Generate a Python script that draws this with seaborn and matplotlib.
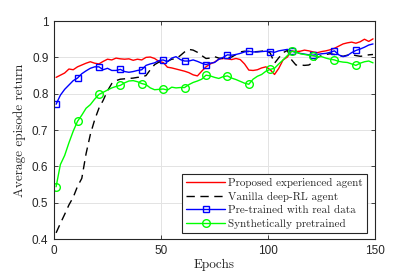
import pandas as pd
import seaborn as sns
import matplotlib.pyplot as plt

epochs = list(range(1, 150, 2))

proposed = [0.845, 0.851, 0.857, 0.868, 0.866, 0.874, 0.879, 0.884, 0.888, 0.884,
            0.882, 0.889, 0.895, 0.893, 0.898, 0.896, 0.895, 0.896, 0.892, 0.895,
            0.893, 0.900, 0.901, 0.897, 0.889, 0.886, 0.873, 0.871, 0.868, 0.865,
            0.862, 0.858, 0.852, 0.849, 0.862, 0.874, 0.882, 0.887, 0.895, 0.897,
            0.896, 0.894, 0.897, 0.894, 0.882, 0.865, 0.864, 0.866, 0.871, 0.874,
            0.866, 0.853, 0.870, 0.893, 0.901, 0.918, 0.916, 0.917, 0.920, 0.918,
            0.915, 0.913, 0.916, 0.918, 0.921, 0.925, 0.931, 0.937, 0.940, 0.942,
            0.939, 0.943, 0.950, 0.944, 0.951]

vanilla = [0.417, 0.443, 0.468, 0.494, 0.515, 0.545, 0.567, 0.635, 0.688, 0.728,
           0.760, 0.782, 0.808, 0.828, 0.836, 0.840, 0.841, 0.842, 0.843, 0.845,
           0.846, 0.850, 0.866, 0.880, 0.887, 0.887, 0.889, 0.895, 0.896, 0.905,
           0.915, 0.922, 0.920, 0.914, 0.905, 0.897, 0.898, 0.902, 0.898, 0.897,
           0.899, 0.901, 0.908, 0.915, 0.917, 0.916, 0.915, 0.916, 0.917, 0.919,
           0.912, 0.884, 0.899, 0.913, 0.919, 0.893, 0.879, 0.879, 0.878, 0.879,
           0.886, 0.900, 0.905, 0.908, 0.910, 0.908, 0.905, 0.903, 0.906, 0.908,
           0.905, 0.903, 0.904, 0.907, 0.908]

real_pre = [0.771, 0.796, 0.812, 0.824, 0.836, 0.843, 0.855, 0.863, 0.870, 0.874,
            0.874, 0.866, 0.870, 0.864, 0.864, 0.867, 0.861, 0.859, 0.861, 0.864,
            0.866, 0.878, 0.882, 0.885, 0.891, 0.893, 0.888, 0.898, 0.902, 0.894,
            0.890, 0.890, 0.893, 0.889, 0.884, 0.880, 0.884, 0.886, 0.895, 0.900,
            0.907, 0.906, 0.908, 0.911, 0.915, 0.917, 0.915, 0.915, 0.916, 0.917,
            0.916, 0.914, 0.918, 0.920, 0.922, 0.917, 0.914, 0.911, 0.909, 0.907,
            0.906, 0.908, 0.910, 0.911, 0.914, 0.918, 0.907, 0.902, 0.905, 0.913,
            0.919, 0.923, 0.928, 0.934, 0.937]

synth_pre = [0.544, 0.605, 0.630, 0.665, 0.697, 0.724, 0.741, 0.760, 0.770, 0.785,
             0.798, 0.804, 0.810, 0.816, 0.820, 0.823, 0.830, 0.835, 0.836, 0.833,
             0.828, 0.825, 0.816, 0.811, 0.812, 0.813, 0.810, 0.818, 0.816, 0.817,
             0.817, 0.825, 0.831, 0.835, 0.840, 0.851, 0.849, 0.845, 0.842, 0.847,
             0.849, 0.843, 0.839, 0.834, 0.829, 0.826, 0.840, 0.848, 0.853, 0.862,
             0.867, 0.870, 0.882, 0.893, 0.905, 0.917, 0.915, 0.910, 0.908, 0.906,
             0.904, 0.902, 0.902, 0.898, 0.895, 0.893, 0.889, 0.887, 0.886, 0.882,
             0.878, 0.884, 0.888, 0.890, 0.885]

names = ['Proposed experienced agent', 'Vanilla deep-RL agent',
         'Pre-trained with real data', 'Synthetically pretrained']
xticks = [0, 50, 100, 150]
yticks = [0.4, 0.5, 0.6, 0.7, 0.8, 0.9, 1.0]
yticklabels = ['0.4', '0.5', '0.6', '0.7', '0.8', '0.9', '1']

sns.set_theme(style='ticks')
plt.rcParams['font.family'] = ['Liberation Sans', 'DejaVu Sans']

fig = plt.figure(figsize=(4.15, 2.77), dpi=100)
ax = fig.add_axes([0.130, 0.137, 0.774, 0.787])

colors = ['#ff0000', '#000000', '#0000ff', '#00ff00']
dashes = ['-', (0, (6, 4)), '-', '-']
markers = [None, None, ('s', 4.5), ('o', 5.5)]
series = [proposed, vanilla, real_pre, synth_pre]

for name, vals, c, d, m in zip(names, series, colors, dashes, markers):
    df = pd.DataFrame({'Epoch': epochs, 'Return': vals})
    sns.lineplot(x='Epoch', y='Return', data=df, ax=ax, color=c, linewidth=1.0, label=name)
    line = ax.lines[-1]
    line.set_linestyle(d)
    if m is not None:
        line.set_marker(m[0])
        line.set_markersize(m[1])
        line.set_markevery(5)
        line.set_markerfacecolor('none')
        line.set_markeredgecolor(c)
        line.set_markeredgewidth(1.0)

ax.set_xlim(0, 150)
ax.set_ylim(0.4, 1.0)
ax.set_xticks(xticks)
ax.set_yticks(yticks)
ax.set_yticklabels(yticklabels)
ax.grid(True, color='#e3e3e3', lw=0.7)
ax.set_axisbelow(True)
for sp in ax.spines.values():
    sp.set_visible(True)
    sp.set_color('#262626')
    sp.set_linewidth(0.8)
ax.tick_params(direction='in', top=True, right=True, length=3, width=0.6,
               labelsize=8.5, colors='#262626', pad=4)

ax.set_xlabel('Epochs', family='cmr10', fontsize=9.5, labelpad=2)
ax.set_ylabel('Average episode return', family='cmr10', fontsize=9.5, labelpad=4)

leg = ax.legend(loc='lower right', bbox_to_anchor=(0.975, 0.03), borderaxespad=0,
                prop={'family': 'cmr10', 'size': 8}, handlelength=3.5,
                fancybox=False, framealpha=1, edgecolor='#262626',
                borderpad=0.35, labelspacing=0.32, handletextpad=0.3)
leg.get_frame().set_linewidth(0.8)

plt.savefig('out.png', dpi=100)
plt.close()
